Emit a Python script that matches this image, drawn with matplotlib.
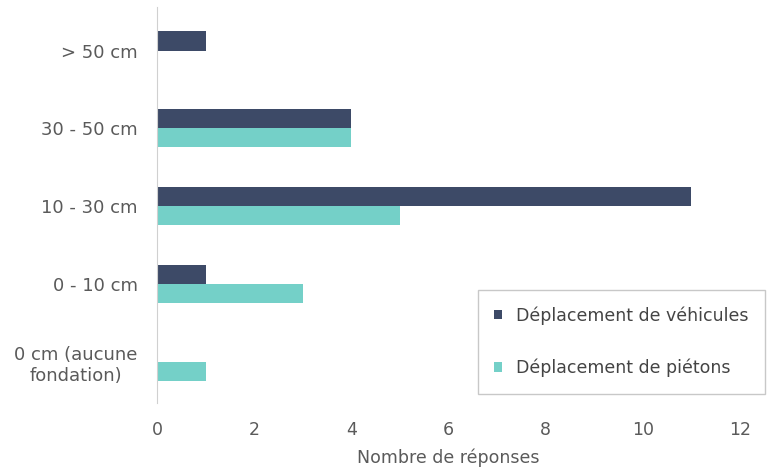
import matplotlib
matplotlib.use('Agg')
import matplotlib.pyplot as plt
import numpy as np

# Data
categories = ['> 50 cm', '30 - 50 cm', '10 - 30 cm', '0 - 10 cm', '0 cm (aucune\nfondation)']
vehicules = [1, 4, 11, 1, 0]
pietons = [0, 4, 5, 3, 1]
series_labels = ['Déplacement de véhicules', 'Déplacement de piétons']
x_ticks = [0, 2, 4, 6, 8, 10, 12]

DARK = '#3D4A67'
TEAL = '#74D0C8'
TEXT = '#5A5A5A'
AXIS = '#D0D0D0'

fig = plt.figure(figsize=(7.67, 4.75), dpi=100)
ax = fig.add_axes([0.2047, 0.1516, 0.7601, 0.8337])

y = np.arange(len(categories))
h = 0.245
ax.barh(y - h / 2, vehicules, h, color=DARK, label=series_labels[0])
ax.barh(y + h / 2, pietons, h, color=TEAL, label=series_labels[1])

ax.set_ylim(len(categories) - 0.47, -0.56)
ax.set_xlim(0, 12)
ax.set_xticks(x_ticks)
ax.set_yticks(y)
ax.set_yticklabels(categories, multialignment='center')

for s in ['top', 'right', 'bottom']:
    ax.spines[s].set_visible(False)
ax.spines['left'].set_color(AXIS)
ax.tick_params(axis='both', length=0, colors=TEXT)
ax.tick_params(axis='y', pad=14, labelsize=13)
ax.tick_params(axis='x', pad=13, labelsize=12.5)

ax.set_xlabel('Nombre de réponses', fontsize=12.5, color=TEXT, labelpad=7)

leg = fig.legend(loc='upper left', bbox_to_anchor=(478 / 767, 1 - 290 / 475),
                 fontsize=12.5, frameon=True, fancybox=False, edgecolor='#BBBBBB',
                 handlelength=0.45, handleheight=0.45, handletextpad=0.8,
                 labelspacing=1.95, borderpad=0.95, borderaxespad=0)
for t in leg.get_texts():
    t.set_color('#444444')

fig.savefig('out.png', dpi=100, facecolor='white')
